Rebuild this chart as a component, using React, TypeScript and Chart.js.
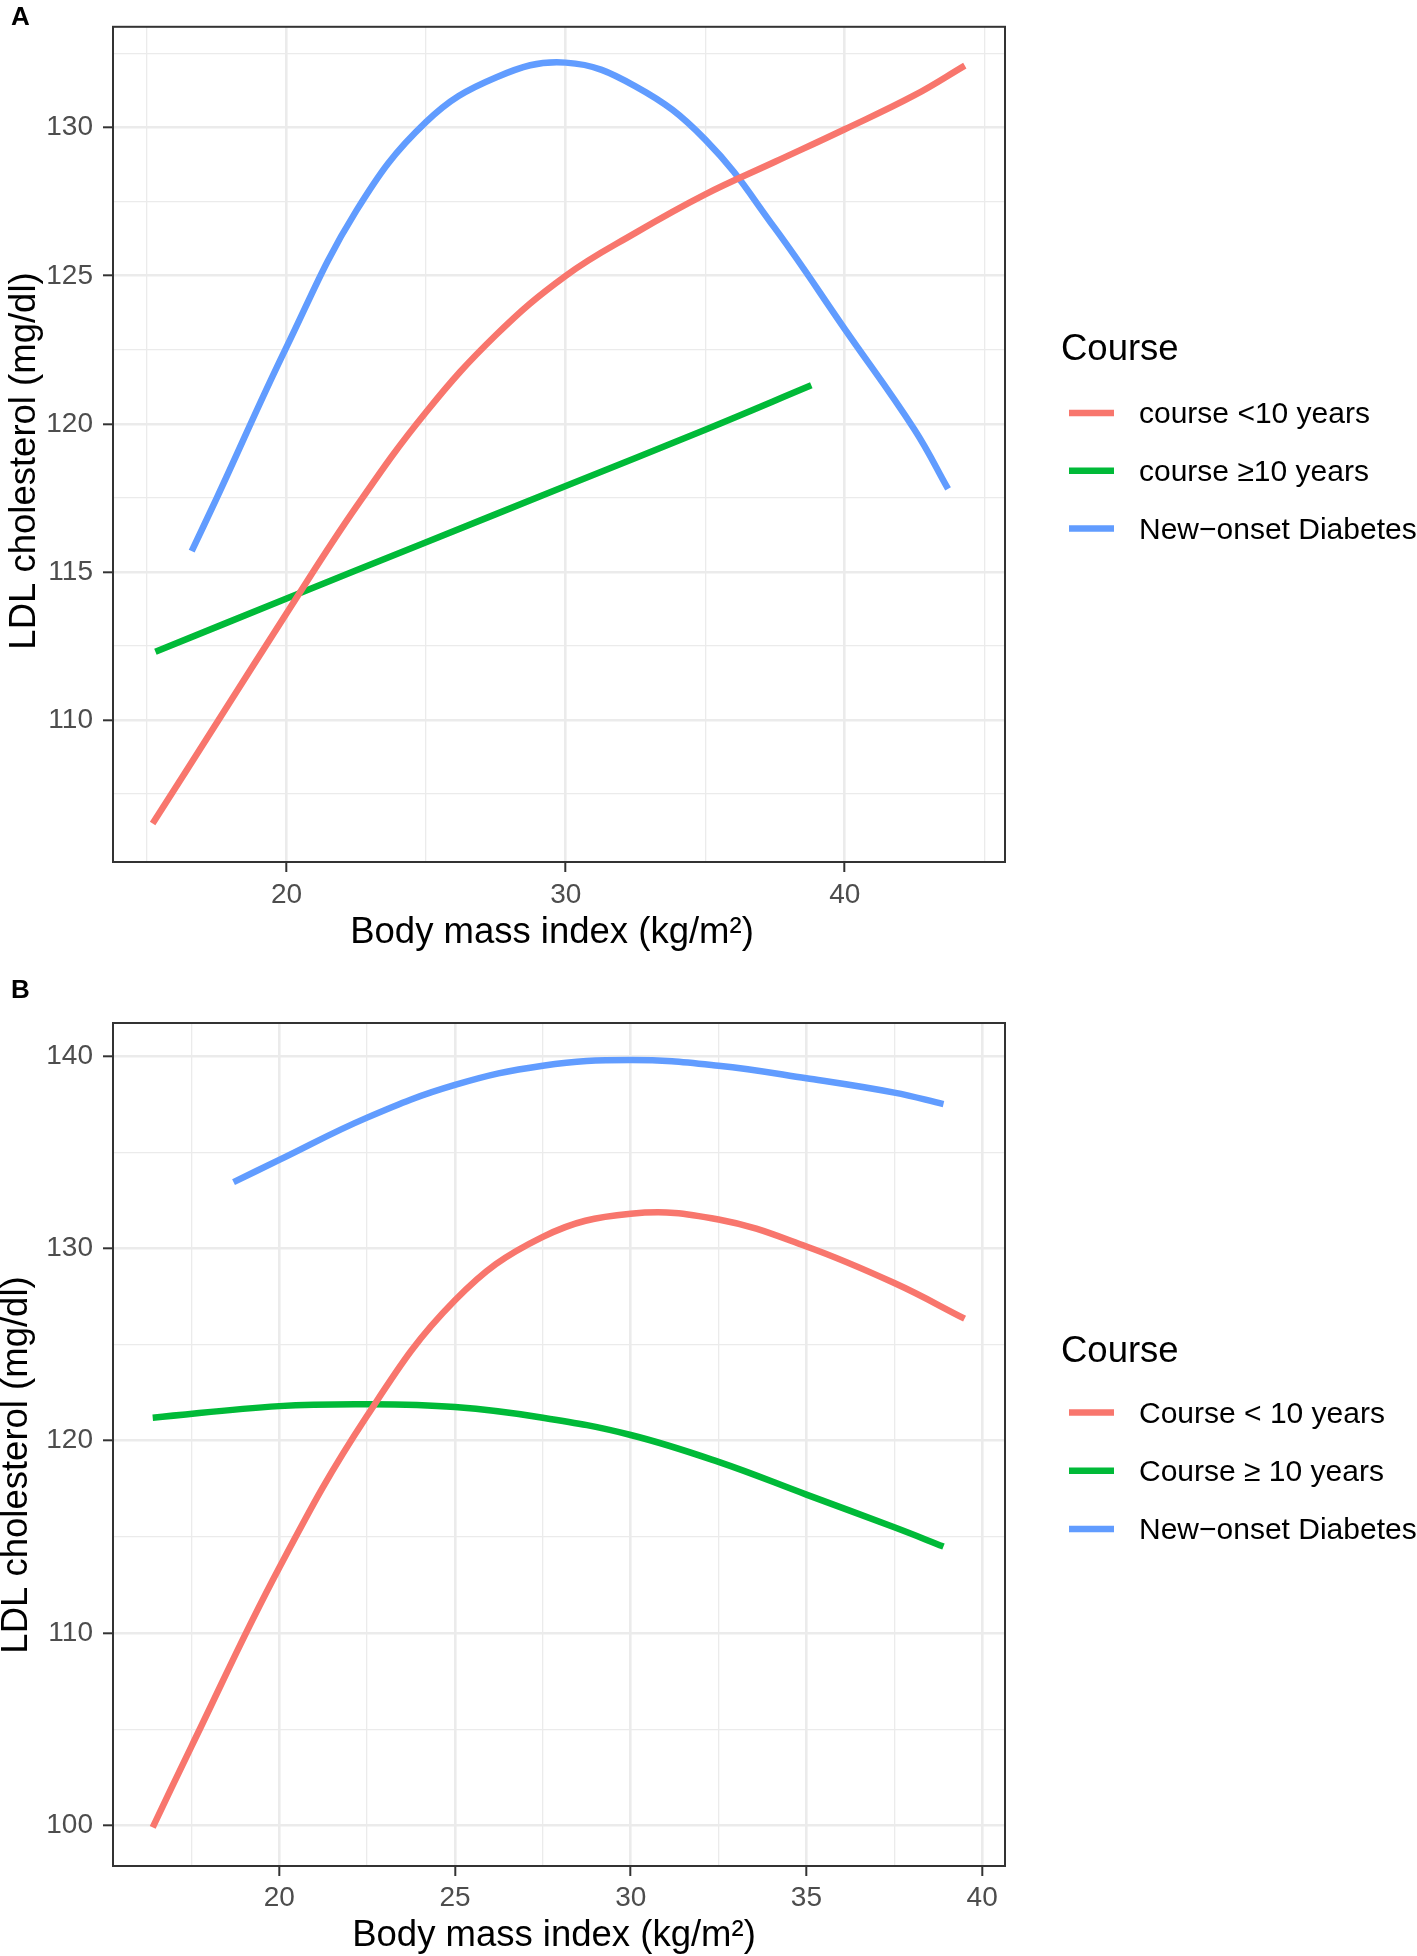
import { useEffect, useRef } from 'react'
import { Chart, registerables } from 'chart.js'
import type { Plugin } from 'chart.js'

Chart.register(...registerables)

const FONT = "'Liberation Sans', Arial, Helvetica, sans-serif"
const COLORS = ['#F8766D', '#00BA38', '#619CFF']

// Panel A: fitted LDL vs BMI curves
const aShortBmi = [15.2, 17.5, 20, 22.5, 25, 27.5, 30, 32.5, 35, 37.5, 40, 42.5, 44.3]
const aShortLdl = [106.5, 109.9, 113.6, 117.2, 120.4, 123.0, 125.0, 126.45, 127.75, 128.85, 129.95, 131.1, 132.1]
const aLongBmi = [15.3, 20, 25, 30, 35, 38.8]
const aLongLdl = [112.3, 114.1, 116.0, 117.9, 119.8, 121.3]
const aNewBmi = [16.6, 17.5, 20, 22.5, 25, 27.5, 30, 32.5, 35, 37.5, 40, 42.5, 43.7]
const aNewLdl = [115.7, 117.5, 122.6, 127.2, 130.2, 131.7, 132.2, 131.4, 129.6, 126.6, 123.2, 119.8, 117.8]
const aLabels = ['course <10 years', 'course \u226510 years', 'New\u2212onset Diabetes']
const aXTicks = [15, 20, 25, 30, 35, 40, 45]
const aXMajor = [20, 30, 40]
const aYTicks = [107.5, 110, 112.5, 115, 117.5, 120, 122.5, 125, 127.5, 130, 132.5]
const aYMajor = [110, 115, 120, 125, 130]

// Panel B
const bShortBmi = [16.4, 17.5, 20, 22.5, 25, 27.5, 30, 32.5, 35, 37.5, 39.5]
const bShortLdl = [99.9, 104.1, 113.4, 121.3, 127.3, 130.6, 131.8, 131.5, 130.1, 128.2, 126.35]
const bLongBmi = [16.4, 20, 22.5, 25, 27.5, 30, 32.5, 35, 37.5, 38.9]
const bLongLdl = [121.2, 121.8, 121.9, 121.75, 121.2, 120.3, 118.9, 117.2, 115.5, 114.5]
const bNewBmi = [18.7, 20, 22.5, 25, 27.5, 30, 32.5, 35, 37.5, 38.9]
const bNewLdl = [133.45, 134.6, 136.8, 138.5, 139.5, 139.8, 139.5, 138.85, 138.1, 137.5]
const bLabels = ['Course < 10 years', 'Course \u2265 10 years', 'New\u2212onset Diabetes']
const bXTicks = [17.5, 20, 22.5, 25, 27.5, 30, 32.5, 35, 37.5, 40]
const bXMajor = [20, 25, 30, 35, 40]
const bYTicks = [100, 105, 110, 115, 120, 125, 130, 135, 140]
const bYMajor = [100, 110, 120, 130, 140]

const X_TITLE = 'Body mass index (kg/m\u00b2)'
const Y_TITLE = 'LDL cholesterol (mg/dl)'

const panelA = {
  tag: 'A', tagY: 25,
  series: [[aShortBmi, aShortLdl], [aLongBmi, aLongLdl], [aNewBmi, aNewLdl]],
  labels: aLabels,
  xMin: 13.78, xMax: 45.74, yMin: 105.2, yMax: 133.41,
  xTicks: aXTicks, xMajor: aXMajor, yTicks: aYTicks, yMajor: aYMajor,
  padTop: 24, xAxisHeight: 116, xTickPad: 6,
  yTitleX: 25, yTitleY: 461, xTitleX: 552, xTitleY: 933,
  legendTitleY: 350, legendY0: 415, legendGap: 57.7,
}

const panelB = {
  tag: 'B', tagY: 20,
  series: [[bShortBmi, bShortLdl], [bLongBmi, bLongLdl], [bNewBmi, bNewLdl]],
  labels: bLabels,
  xMin: 15.27, xMax: 40.65, yMin: 97.89, yMax: 141.72,
  xTicks: bXTicks, xMajor: bXMajor, yTicks: bYTicks, yMajor: bYMajor,
  padTop: 45, xAxisHeight: 90, xTickPad: 5,
  yTitleX: 17, yTitleY: 487, xTitleX: 554, xTitleY: 958,
  legendTitleY: 374, legendY0: 436.5, legendGap: 58.2,
}

type Panel = typeof panelA

// border, panel tag, axis titles and legend
const decor: Plugin<'line'> = {
  id: 'decor',
  afterDraw(chart, _args, o: any) {
    const { ctx, chartArea: a } = chart
    ctx.save()
    ctx.strokeStyle = '#333333'
    ctx.lineWidth = 2
    ctx.strokeRect(a.left, a.top, a.right - a.left, a.bottom - a.top)

    ctx.fillStyle = '#000'
    ctx.textAlign = 'left'
    ctx.textBaseline = 'alphabetic'
    ctx.font = `bold 26px ${FONT}`
    ctx.fillText(o.tag, 11, o.tagY)

    ctx.font = `36.5px ${FONT}`
    ctx.textAlign = 'center'
    ctx.textBaseline = 'middle'
    ctx.fillText(X_TITLE, o.xTitleX, o.xTitleY)
    ctx.save()
    ctx.translate(o.yTitleX, o.yTitleY)
    ctx.rotate(-Math.PI / 2)
    ctx.fillText(Y_TITLE, 0, 0)
    ctx.restore()

    ctx.textAlign = 'left'
    ctx.fillText('Course', 1061, o.legendTitleY)
    ctx.font = `30px ${FONT}`
    chart.data.datasets.forEach((ds, i) => {
      const y = o.legendY0 + i * o.legendGap
      ctx.strokeStyle = ds.borderColor as string
      ctx.lineWidth = 6.5
      ctx.beginPath()
      ctx.moveTo(1069, y - 2)
      ctx.lineTo(1114, y - 2)
      ctx.stroke()
      ctx.fillText(ds.label as string, 1139, y)
    })
    ctx.restore()
  },
}

function axis(ticks: number[], major: number[], min: number, max: number, horizontal: boolean, p: Panel) {
  const isMajor = (v: number) => major.includes(v)
  return {
    type: 'linear',
    min,
    max,
    afterFit: (s: any) => {
      if (horizontal) s.height = p.xAxisHeight
      else s.width = 113
    },
    afterBuildTicks: (s: any) => { s.ticks = ticks.map((value) => ({ value })) },
    ticks: {
      autoSkip: false,
      maxRotation: 0,
      padding: horizontal ? p.xTickPad : 10,
      color: '#4D4D4D',
      font: { family: FONT, size: 28 },
      callback: (v: number) => (isMajor(v) ? String(v) : ''),
    },
    grid: {
      color: '#EBEBEB',
      lineWidth: (c: any) => (isMajor(c.tick?.value) ? 2.6 : 1.3),
      tickColor: (c: any) => (isMajor(c.tick?.value) ? '#333333' : 'rgba(0,0,0,0)'),
      tickWidth: 2,
      tickLength: 10,
    },
    border: { display: false },
  }
}

function LdlPanel({ panel }: { panel: Panel }) {
  const canvasRef = useRef<HTMLCanvasElement>(null)

  useEffect(() => {
    if (!canvasRef.current) return
    const chart = new Chart(canvasRef.current, {
      type: 'line',
      data: {
        datasets: panel.series.map(([bmi, ldl], i) => ({
          label: panel.labels[i],
          data: bmi.map((x, j) => ({ x, y: ldl[j] })),
          borderColor: COLORS[i],
          backgroundColor: COLORS[i],
          borderWidth: 6.5,
          pointRadius: 0,
          fill: false,
          tension: 0.4,
        })),
      },
      options: {
        responsive: true,
        maintainAspectRatio: false,
        animation: false,
        layout: { padding: { top: panel.padTop, right: 412, left: 0, bottom: 0 } },
        plugins: {
          legend: { display: false },
          tooltip: { enabled: false },
          decor: panel,
        },
        scales: {
          x: axis(panel.xTicks, panel.xMajor, panel.xMin, panel.xMax, true, panel),
          y: axis(panel.yTicks, panel.yMajor, panel.yMin, panel.yMax, false, panel),
        },
      } as any,
      plugins: [decor],
    })
    return () => { chart.destroy() }
  }, [panel])

  return (
    <div style={{ position: 'relative', width: 1417, height: 978 }}>
      <canvas ref={canvasRef} />
    </div>
  )
}

export default function App() {
  return (
    <div style={{ position: 'absolute', left: 0, top: 0, width: 1417, height: 1956, background: '#fff', overflow: 'hidden' }}>
      <LdlPanel panel={panelA} />
      <LdlPanel panel={panelB} />
    </div>
  )
}
